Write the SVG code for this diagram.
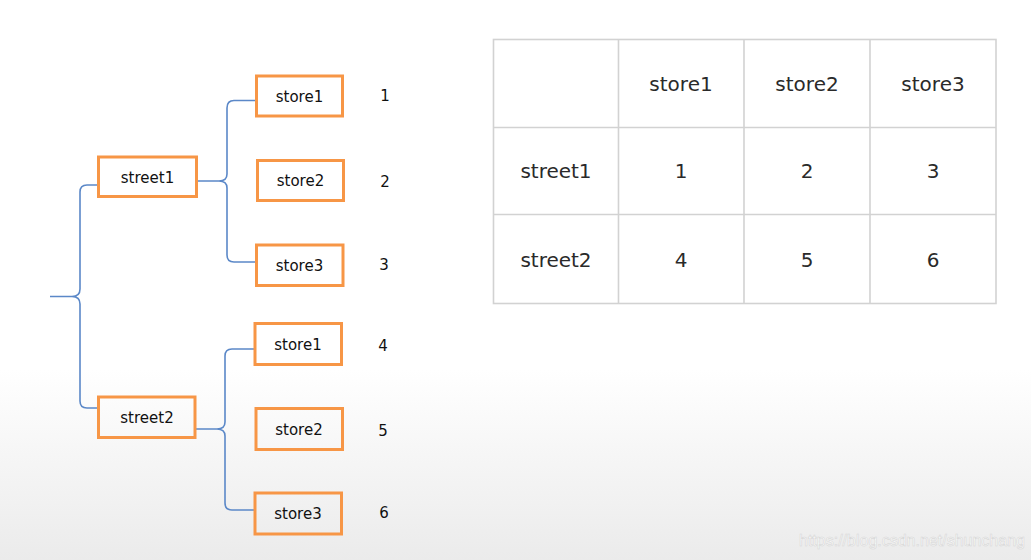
<svg xmlns="http://www.w3.org/2000/svg" width="1031" height="560" viewBox="0 0 1031 560">
<defs>
<linearGradient id="bg" x1="0" y1="0" x2="0" y2="1">
<stop offset="0" stop-color="#ffffff"/>
<stop offset="0.66" stop-color="#ffffff"/>
<stop offset="1" stop-color="#ebebeb"/>
</linearGradient>
</defs>
<style>
.box{fill:none;stroke:#f79646;stroke-width:3}
.lbl{font-family:"DejaVu Sans",Verdana,sans-serif;font-size:15px;fill:#111;text-anchor:middle}
.num{font-family:"DejaVu Sans",Verdana,sans-serif;font-size:15px;fill:#111;text-anchor:middle}
.conn path{fill:none;stroke:#5b88c8;stroke-width:1.6}
.grid{fill:none;stroke:#d2d2d2;stroke-width:1.6}
.tt{font-family:"DejaVu Sans",Verdana,sans-serif;font-size:20px;fill:#2a2a2a;text-anchor:middle}
</style>
<rect width="1031" height="560" fill="url(#bg)"/>

<g id="connectors" class="conn">
<path d="M98,185 L87,185 Q80,185 80,192 L80,289 Q80,296.5 72,296.5 L50,296.5 M72,296.5 Q80,296.5 80,304 L80,401 Q80,408 87,408 L98,408"/>
<path d="M256,100.5 L234,100.5 Q227,100.5 227,108 L227,174 Q227,181 219,181 L197,181 M219,181 Q227,181 227,188 L227,255 Q227,262 234,262 L256,262"/>
<path d="M254,349 L232,349 Q225,349 225,356 L225,422 Q225,429 217,429 L195,429 M217,429 Q225,429 225,436 L225,503 Q225,510 232,510 L254,510"/>
</g>

<g id="street1"><rect class="box" x="98.5" y="157" width="98" height="39.5"/><text class="lbl" x="147.5" y="183">street1</text></g>
<g id="s1store1"><rect class="box" x="256.5" y="76" width="86" height="40"/><text class="lbl" x="299.5" y="101.5">store1</text></g>
<g id="s1store2"><rect class="box" x="257.5" y="160.5" width="86" height="40"/><text class="lbl" x="300.5" y="186">store2</text></g>
<g id="s1store3"><rect class="box" x="256.5" y="245" width="86.5" height="40.5"/><text class="lbl" x="299.5" y="271">store3</text></g>
<g id="street2"><rect class="box" x="98.5" y="397" width="96.5" height="40.5"/><text class="lbl" x="147" y="423">street2</text></g>
<g id="s2store1"><rect class="box" x="255" y="323.5" width="86.5" height="41"/><text class="lbl" x="298" y="350">store1</text></g>
<g id="s2store2"><rect class="box" x="256" y="408.5" width="86.5" height="41"/><text class="lbl" x="299" y="435">store2</text></g>
<g id="s2store3"><rect class="box" x="255" y="493" width="86.5" height="41"/><text class="lbl" x="298" y="519">store3</text></g>

<g id="numbers">
<text class="num" x="385" y="101">1</text>
<text class="num" x="385" y="187">2</text>
<text class="num" x="384" y="270">3</text>
<text class="num" x="383" y="351">4</text>
<text class="num" x="383" y="436">5</text>
<text class="num" x="384" y="518">6</text>
</g>

<g id="table">
<rect class="grid" x="493.5" y="39.5" width="502.5" height="264"/>
<path class="grid" d="M618.5,39.5 V303.5 M744,39.5 V303.5 M870,39.5 V303.5 M493.5,127.5 H996 M493.5,214.5 H996"/>
<text class="tt" x="681" y="91">store1</text>
<text class="tt" x="807" y="91">store2</text>
<text class="tt" x="933" y="91">store3</text>
<text class="tt" x="556" y="178">street1</text>
<text class="tt" x="681" y="178">1</text>
<text class="tt" x="807" y="178">2</text>
<text class="tt" x="933" y="178">3</text>
<text class="tt" x="556" y="267">street2</text>
<text class="tt" x="681" y="267">4</text>
<text class="tt" x="807" y="267">5</text>
<text class="tt" x="933" y="267">6</text>
</g>

<text x="799" y="546" font-family="Liberation Sans, Arial, sans-serif" font-size="16" fill="#ffffff" stroke="#d6d6d6" stroke-width="0.6">https://blog.csdn.net/shunchang</text>
</svg>
